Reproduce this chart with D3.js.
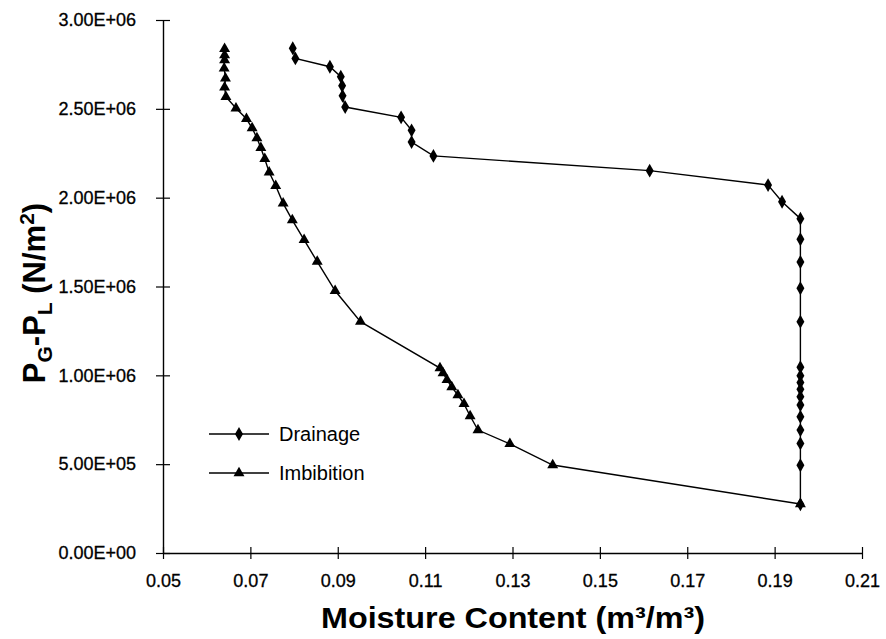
<!DOCTYPE html>
<html>
<head>
<meta charset="utf-8">
<script src="https://cdn.jsdelivr.net/npm/d3@7"></script>
<style>
  html, body { margin: 0; padding: 0; background: #fff; }
  svg { display: block; }
  text { font-family: "Liberation Sans", Arial, Helvetica, sans-serif; fill: #000; }
</style>
</head>
<body>
<svg id="chart" width="886" height="639"></svg>
<script>
// ---- Data ----
const drainageX = [0.0797, 0.0803, 0.0882, 0.0907, 0.0910, 0.0911, 0.0917, 0.1045, 0.1069, 0.1069, 0.1119,
  0.1614, 0.1885, 0.1917, 0.1959, 0.1959, 0.1959, 0.1959, 0.1959, 0.1959, 0.1959, 0.1959, 0.1959,
  0.1959, 0.1959, 0.1959, 0.1959, 0.1959, 0.1959, 0.1959];
const drainageY = [2.841e6, 2.784e6, 2.737e6, 2.681e6, 2.630e6, 2.573e6, 2.510e6, 2.452e6, 2.379e6, 2.313e6, 2.235e6,
  2.152e6, 2.071e6, 1.977e6, 1.882e6, 1.766e6, 1.638e6, 1.490e6, 1.302e6, 1.046e6, 0.998e6, 0.959e6, 0.921e6,
  0.880e6, 0.833e6, 0.767e6, 0.692e6, 0.617e6, 0.494e6, 0.274e6];

const imbibitionX = [0.0641, 0.0641, 0.0641, 0.0640, 0.0643, 0.0641, 0.0644, 0.0667, 0.0691, 0.0704, 0.0715,
  0.0724, 0.0733, 0.0743, 0.0758, 0.0775, 0.0796, 0.0823, 0.0853, 0.0894, 0.0952, 0.1134, 0.1141,
  0.1150, 0.1161, 0.1175, 0.1189, 0.1203, 0.1221, 0.1294, 0.1392, 0.1959];
const imbibitionY = [2.838e6, 2.803e6, 2.775e6, 2.728e6, 2.672e6, 2.621e6, 2.568e6, 2.503e6, 2.444e6, 2.392e6, 2.336e6,
  2.280e6, 2.218e6, 2.143e6, 2.067e6, 1.968e6, 1.874e6, 1.762e6, 1.640e6, 1.476e6, 1.302e6, 1.041e6, 1.013e6,
  0.974e6, 0.934e6, 0.889e6, 0.839e6, 0.771e6, 0.692e6, 0.614e6, 0.495e6, 0.276e6];

const xTickValues = [0.05, 0.07, 0.09, 0.11, 0.13, 0.15, 0.17, 0.19, 0.21];
const xTickLabels = ["0.05", "0.07", "0.09", "0.11", "0.13", "0.15", "0.17", "0.19", "0.21"];
const yTickValues = [0, 5e5, 1e6, 1.5e6, 2e6, 2.5e6, 3e6];
const yTickLabels = ["0.00E+00", "5.00E+05", "1.00E+06", "1.50E+06", "2.00E+06", "2.50E+06", "3.00E+06"];

const seriesNames = ["Drainage", "Imbibition"];

// ---- Layout ----
const svg = d3.select("#chart");
const x = d3.scaleLinear().domain([0.05, 0.21]).range([163, 862]);
const y = d3.scaleLinear().domain([0, 3e6]).range([553, 20]);

// Axes
const xAxis = d3.axisBottom(x).tickValues(xTickValues)
  .tickFormat((d, i) => xTickLabels[i]).tickSizeInner(6).tickSizeOuter(0).tickPadding(15);
const gx = svg.append("g").attr("transform", `translate(0,${y(0)})`).call(xAxis);
gx.selectAll(".tick line").attr("y1", -6).attr("stroke", "#000").attr("stroke-width", 1.2);
gx.select(".domain").attr("stroke", "#000").attr("stroke-width", 1.4);
gx.selectAll(".tick text").attr("font-size", 18).attr("font-family", "Liberation Sans, Arial, sans-serif")
  .attr("stroke", "#000").attr("stroke-width", 0.3);

const yAxis = d3.axisLeft(y).tickValues(yTickValues)
  .tickFormat((d, i) => yTickLabels[i]).tickSizeInner(7).tickSizeOuter(0).tickPadding(20);
const gy = svg.append("g").attr("transform", `translate(${x(0.05)},0)`).call(yAxis);
gy.selectAll(".tick line").attr("x1", 7).attr("stroke", "#000").attr("stroke-width", 1.2);
gy.select(".domain").attr("stroke", "#000").attr("stroke-width", 1.4);
gy.selectAll(".tick text").attr("font-size", 18).attr("font-family", "Liberation Sans, Arial, sans-serif")
  .attr("stroke", "#000").attr("stroke-width", 0.3);

// Axis titles
svg.append("text")
  .attr("x", 513).attr("y", 628)
  .attr("text-anchor", "middle")
  .attr("font-size", 29).attr("font-weight", "bold")
  .attr("textLength", 384).attr("lengthAdjust", "spacingAndGlyphs")
  .text("Moisture Content (m³/m³)");

const yt = svg.append("text")
  .attr("transform", `translate(45,${293}) rotate(-90)`)
  .attr("text-anchor", "middle")
  .attr("font-size", 31).attr("font-weight", "bold");
yt.append("tspan").text("P");
yt.append("tspan").attr("font-size", 21).attr("dy", 7).text("G");
yt.append("tspan").attr("dy", -7).text("-P");
yt.append("tspan").attr("font-size", 21).attr("dy", 7).text("L");
yt.append("tspan").attr("dy", -7).text(" (N/m");
yt.append("tspan").attr("font-size", 21).attr("dy", -11).text("2");
yt.append("tspan").attr("dy", 11).text(")");

// Series
const line = d3.line().x(d => x(d[0])).y(d => y(d[1]));
const drainage = drainageX.map((v, i) => [v, drainageY[i]]);
const imbibition = imbibitionX.map((v, i) => [v, imbibitionY[i]]);

const diamond = d3.symbol().type(d3.symbolDiamond).size(55);
const triangle = d3.symbol().type(d3.symbolTriangle).size(52);

function drawSeries(data, sym) {
  svg.append("path").datum(data)
    .attr("fill", "none").attr("stroke", "#000").attr("stroke-width", 1.4)
    .attr("d", line);
  svg.append("g").selectAll("path").data(data).join("path")
    .attr("transform", d => `translate(${x(d[0])},${y(d[1])})`)
    .attr("d", sym).attr("fill", "#000");
}
drawSeries(drainage, diamond);
drawSeries(imbibition, triangle);

// Legend
const legend = svg.append("g");
const legItems = [{ name: seriesNames[0], sym: diamond, yy: 434 }, { name: seriesNames[1], sym: triangle, yy: 473 }];
legItems.forEach(it => {
  legend.append("line").attr("x1", 209).attr("x2", 269).attr("y1", it.yy).attr("y2", it.yy)
    .attr("stroke", "#000").attr("stroke-width", 1.4);
  legend.append("path").attr("transform", `translate(239,${it.yy})`).attr("d", it.sym).attr("fill", "#000");
  legend.append("text").attr("x", 279).attr("y", it.yy + 7).attr("font-size", 20).text(it.name);
});
</script>
</body>
</html>
